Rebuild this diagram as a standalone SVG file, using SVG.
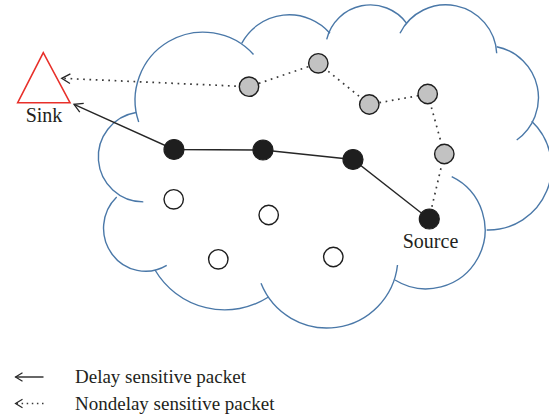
<svg xmlns="http://www.w3.org/2000/svg" width="549" height="417" viewBox="0 0 549 417">
<style>
.cloud{fill:none;stroke:#4a78a8;stroke-width:1.4}
.solid{fill:none;stroke:#262626;stroke-width:1.4}
.dot{fill:none;stroke:#3a3a3a;stroke-width:1.7;stroke-dasharray:1.7 4.6}
.ldot{fill:none;stroke:#3a3a3a;stroke-width:1.5;stroke-dasharray:1.5 3.6}
.black{fill:#1e1e1e;stroke:#1e1e1e;stroke-width:1.2}
.gray{fill:#c2c2c2;stroke:#1e1e1e;stroke-width:1.4}
.white{fill:#ffffff;stroke:#1e1e1e;stroke-width:1.4}
.lbl{font-family:"Liberation Serif","Times New Roman",serif;font-size:20px;fill:#231f20}
.leg{font-family:"Liberation Serif","Times New Roman",serif;font-size:19px;fill:#231f20}
</style>
<defs>
<marker id="arr" markerUnits="userSpaceOnUse" orient="auto" refX="0" refY="0" markerWidth="12" markerHeight="12" overflow="visible">
<path d="M-8.5,-4.8 L0,0 L-8.5,4.8" fill="none" stroke="#262626" stroke-width="1.3" stroke-dasharray="none"/>
</marker>
<marker id="arrs" markerUnits="userSpaceOnUse" orient="auto" refX="0" refY="0" markerWidth="12" markerHeight="12" overflow="visible">
<path d="M-7,-4.3 L0,0 L-7,4.3" fill="none" stroke="#262626" stroke-width="1.2" stroke-dasharray="none"/>
</marker>
</defs>
<g id="cloud">
<path class="cloud" d="M138.7,122 A68,68 0 0 1 253.5,54.5"/>
<path class="cloud" d="M241.7,43.3 A54,54 0 0 1 330,33.3"/>
<path class="cloud" d="M326.7,39.3 A45,45 0 0 1 406.7,23.3"/>
<path class="cloud" d="M400,33.3 A51,51 0 0 1 496.7,53.3"/>
<path class="cloud" d="M496.7,46.7 A52,52 0 0 1 516.7,140"/>
<path class="cloud" d="M531.7,121.2 A63,63 0 0 1 486.7,230"/>
<path class="cloud" d="M451.7,176.7 A59,59 0 1 1 395,280"/>
<path class="cloud" d="M261,283.3 A71,71 0 0 0 397.5,265"/>
<path class="cloud" d="M155,270 A81,81 0 0 0 268.5,297"/>
<path class="cloud" d="M116.7,197 A42,43 0 0 0 166.7,265.4"/>
<path class="cloud" d="M136,112.5 A45,45 0 0 0 143.3,201.9"/>
</g>
<g id="connectors">
<path class="solid" d="M429,219 L353,159.5 L263,150 L174,149.5 L74,104.3" marker-end="url(#arr)"/>
<path class="dot" d="M429,219 L444.3,154 L427.7,94 L369.3,104.5 L318.3,63.3 L249,86.7 L61.7,78.3" marker-end="url(#arr)"/>
</g>
<g id="sink">
<polygon points="43.3,52.7 17.7,102.7 70,102.7" fill="none" stroke="#e8302a" stroke-width="1.6"/>
<text class="lbl" x="44" y="122" text-anchor="middle">Sink</text>
</g>
<g id="source">
<circle class="black" cx="429.3" cy="219" r="10"/>
<text class="lbl" x="430.5" y="248" text-anchor="middle">Source</text>
</g>
<g id="b1"><circle class="black" cx="174" cy="149.5" r="10"/></g>
<g id="b2"><circle class="black" cx="263" cy="150" r="10"/></g>
<g id="b3"><circle class="black" cx="353" cy="159.5" r="10"/></g>
<g id="g1"><circle class="gray" cx="249" cy="86.7" r="9.7"/></g>
<g id="g2"><circle class="gray" cx="318.3" cy="63.3" r="9.7"/></g>
<g id="g3"><circle class="gray" cx="369.3" cy="104.5" r="9.7"/></g>
<g id="g4"><circle class="gray" cx="427.7" cy="94" r="9.7"/></g>
<g id="g5"><circle class="gray" cx="444.3" cy="154" r="9.7"/></g>
<g id="w1"><circle class="white" cx="173.7" cy="199.3" r="9.7"/></g>
<g id="w2"><circle class="white" cx="268.7" cy="215" r="9.7"/></g>
<g id="w3"><circle class="white" cx="218.3" cy="259.3" r="9.7"/></g>
<g id="w4"><circle class="white" cx="333.3" cy="257" r="9.7"/></g>
<g id="legend">
<path class="solid" d="M43.5,377 L15.5,377" marker-end="url(#arrs)"/>
<text class="leg" x="75" y="383">Delay sensitive packet</text>
<path class="ldot" d="M43.5,403.5 L15.5,403.5" marker-end="url(#arrs)"/>
<text class="leg" x="75" y="409.5">Nondelay sensitive packet</text>
</g>
</svg>
